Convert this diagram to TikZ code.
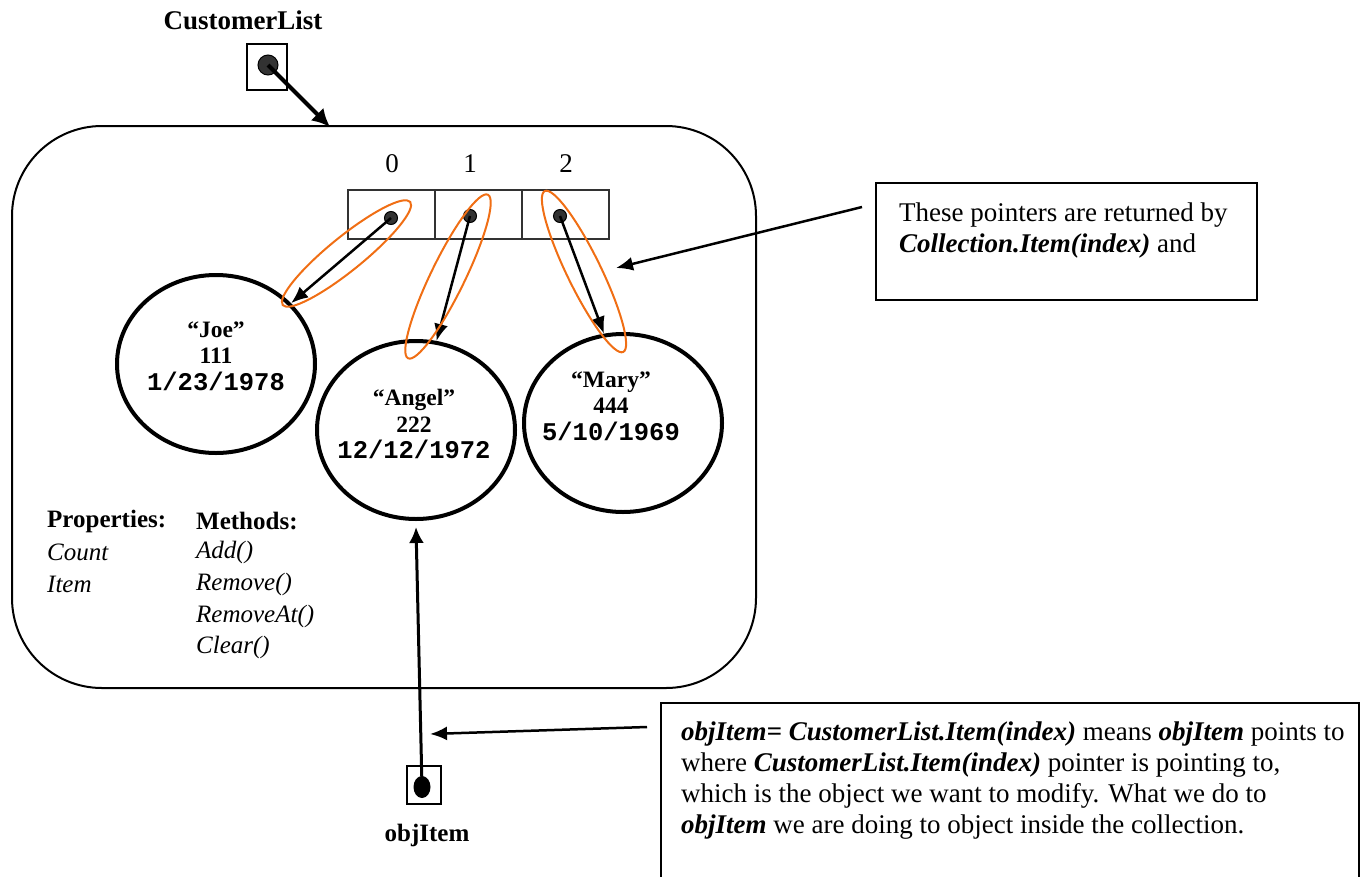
\documentclass[tikz,border=0pt]{standalone}
\usepackage{fontspec}
\setmainfont{Liberation Serif}
\newfontfamily\monob{Liberation Mono}[BoldFont={Liberation Mono Bold}]
\newcommand{\datefont}{\fontsize{25.5}{26.5}\selectfont\monob\bfseries}
\usetikzlibrary{arrows.meta,shapes.geometric}
\definecolor{ptrorange}{RGB}{240,110,20}
\definecolor{dotgray}{RGB}{50,50,50}
\tikzset{
  txt/.style={inner sep=0pt,font=\fontsize{27}{31}\selectfont},
  small/.style={inner sep=0pt,font=\fontsize{25}{31}\selectfont},
  box/.style={draw,line width=2pt,inner sep=0pt},
  cell/.style={draw=dotgray,line width=2.5pt,minimum width=87pt,minimum height=49pt,inner sep=0pt},
  dot/.style={circle,fill=dotgray,draw=black,line width=1pt,inner sep=0pt},
  obj/.style={ellipse,draw,line width=4pt,minimum width=198pt,minimum height=178pt,inner sep=0pt},
  objtxt/.style={align=center,inner sep=0pt,font=\fontsize{23.5}{26.5}\selectfont\bfseries},
  ptr/.style={line width=2.5pt,-{Latex[length=17pt,width=14pt]}},
  thickptr/.style={line width=4pt,-{Latex[length=18pt,width=18pt]}},
  midptr/.style={line width=3pt,-{Latex[length=16pt,width=15pt]}},
  halo/.style={draw=ptrorange,line width=2pt}
}
\begin{document}
\begin{tikzpicture}[x=1pt,y=-1pt]
\useasboundingbox (0,0) rectangle (1362,876);
% collection
\node[draw,line width=2pt,rounded corners=90pt,minimum width=744pt,minimum height=562pt] (coll) at (384,407) {};
\node[txt,font=\fontsize{27}{31}\selectfont\bfseries] (cltitle) at (243,20) {CustomerList};
\node[box,minimum width=40pt,minimum height=46pt] (clbox) at (267,66.5) {};
\node[dot,minimum size=20pt] (cldot) at (268,65) {};
\coordinate (clhit) at (330,127);
\draw[thickptr] (cldot.center) -- (clhit);
% index array
\node[txt] (i0) at (392,164) {0};
\node[txt] (i1) at (470,164) {1};
\node[txt] (i2) at (566,164) {2};
\node[cell] (c0) at (391.5,214.5) {};
\node[cell] (c1) at (478.5,214.5) {};
\node[cell] (c2) at (565.5,214.5) {};
\node[dot,minimum size=13pt] (d0) at (391,218) {};
\node[dot,minimum size=13pt] (d1) at (470,216) {};
\node[dot,minimum size=13pt] (d2) at (560,216) {};
% objects
\node[obj] (joe) at (216,364) {};
\node[obj] (angel) at (416,430) {};
\node[obj] (mary) at (623,423) {};
\node[objtxt] (joetxt) at (216,356) {“Joe”\\111\\{\datefont 1/23/1978}};
\node[objtxt] (angeltxt) at (414,424) {“Angel”\\222\\{\datefont 12/12/1972}};
\node[objtxt] (marytxt) at (611,406) {“Mary”\\444\\{\datefont 5/10/1969}};
\draw[ptr] (d0.center) -- (joe.39);
\draw[ptr] (d1.center) -- (angel.77);
\draw[ptr] (d2.center) -- (mary.102);
% orange halos
\draw[halo,rotate around={39:(346.5,253.5)}] (346.5,253.5) ellipse [x radius=82,y radius=17];
\draw[halo,rotate around={64:(448,276.5)}] (448,276.5) ellipse [x radius=91,y radius=17];
\draw[halo,rotate around={-64:(584,271.5)}] (584,271.5) ellipse [x radius=89.5,y radius=17];
% properties / methods
\node[small,anchor=west,font=\fontsize{25}{31}\selectfont\bfseries] (props) at (47,521) {Properties:};
\node[small,anchor=west,font=\fontsize{25}{31}\selectfont\itshape] (pcount) at (47,552) {Count};
\node[small,anchor=west,font=\fontsize{25}{31}\selectfont\itshape] (pitem) at (47,584) {Item};
\node[small,anchor=west,font=\fontsize{25}{31}\selectfont\bfseries] (meths) at (196,521) {Methods:};
\node[small,anchor=west,font=\fontsize{25}{31}\selectfont\itshape] (madd) at (196,552) {Add()};
\node[small,anchor=west,font=\fontsize{25}{31}\selectfont\itshape] (mremove) at (196,584) {Remove()};
\node[small,anchor=west,font=\fontsize{25}{31}\selectfont\itshape] (mremat) at (196,616) {RemoveAt()};
\node[small,anchor=west,font=\fontsize{25}{31}\selectfont\itshape] (mclear) at (196,647) {Clear()};
% objItem
\node[box,minimum width=34pt,minimum height=38pt] (objbox) at (424,785) {};
\node[ellipse,fill=black,inner sep=0pt,minimum width=17pt,minimum height=22pt] (objdot) at (422,787) {};
\node[txt,font=\fontsize{25}{31}\selectfont\bfseries] (objlbl) at (427,835) {objItem};
\coordinate (objtip) at (416,527);
\draw[midptr] (objdot.center) -- (objtip);
% note 1
\node[box,minimum width=381pt,minimum height=117pt] (note1) at (1066.5,241.5) {};
\node[txt,anchor=base west] (n1l1) at (899,221) {These pointers are returned by};
\node[txt,anchor=base west] (n1l2) at (899,252) {\textbf{\textit{Collection.Item(index)}} and};
\coordinate (n1from) at (862,207);
\coordinate (n1tip) at (616,268);
\draw[ptr] (n1from) -- (n1tip);
% note 2
\node[box,anchor=north west,minimum width=698pt,minimum height=220pt] (note2) at (660,702) {};
\node[txt,anchor=base west] (n2l1) at (681,740) {\textbf{\textit{objItem= CustomerList.Item(index)}} means \textbf{\textit{objItem}} points to};
\node[txt,anchor=base west] (n2l2) at (681,771) {where \textbf{\textit{CustomerList.Item(index)}} pointer is pointing to,};
\node[txt,anchor=base west] (n2l3) at (681,802) {which is the object we want to modify. What we do to};
\node[txt,anchor=base west] (n2l4) at (681,833) {\textbf{\textit{objItem}} we are doing to object inside the collection.};
\coordinate (n2from) at (647,727);
\coordinate (n2tip) at (430,734);
\draw[ptr] (n2from) -- (n2tip);
\end{tikzpicture}
\end{document}
